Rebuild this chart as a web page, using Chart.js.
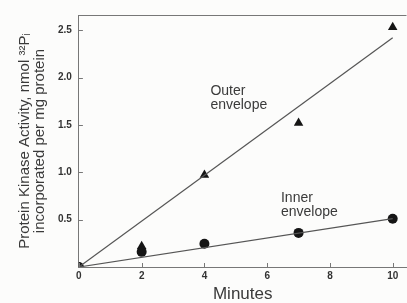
<!DOCTYPE html>
<html>
<head>
<meta charset="utf-8">
<script src="https://cdn.jsdelivr.net/npm/chart.js@4/dist/chart.umd.min.js"></script>
<style>
  html, body { margin: 0; padding: 0; background: #fcfcfb; overflow: hidden; }
  #wrap { width: 412px; height: 303px; position: relative; }
</style>
</head>
<body>
<div id="wrap"><canvas id="grafik"></canvas></div>
<script>
// values
const minuti = [0, 2, 4, 7, 10];
const spoljasnja = [0, 0.22, 0.97, 1.52, 2.53];   // Outer envelope (triangles)
const unutrasnja = [0, 0.16, 0.245, 0.36, 0.51];  // Inner envelope (circles)
const fitX = [0, 10];
const spoljasnjaFit = [0, 2.42];
const unutrasnjaFit = [0, 0.51];
const xTicks = [0, 2, 4, 6, 8, 10];
const yTicks = [0.5, 1.0, 1.5, 2.0, 2.5];

const tamno = '#151515';
const linija = '#555';

// ticks drawn inward + frame top line + curve labels
const okvir = {
    id: 'okvir',
    afterDraw(chart) {
        const ctx = chart.ctx;
        const a = chart.chartArea;
        const sx = chart.scales.x, sy = chart.scales.y;
        ctx.save();
        ctx.strokeStyle = '#777';
        ctx.lineWidth = 1;
        ctx.beginPath();
        ctx.moveTo(a.left, a.top + 0.5);
        ctx.lineTo(a.right, a.top + 0.5);
        xTicks.forEach(v => {
            const px = Math.round(sx.getPixelForValue(v)) + 0.5;
            ctx.moveTo(px, a.bottom);
            ctx.lineTo(px, a.bottom - 4);
        });
        yTicks.forEach(v => {
            const py = Math.round(sy.getPixelForValue(v)) + 0.5;
            ctx.moveTo(a.left, py);
            ctx.lineTo(a.left + 4, py);
        });
        ctx.stroke();

        ctx.fillStyle = '#3a3a3a';
        ctx.font = '14px "Liberation Sans", Arial, sans-serif';
        ctx.textBaseline = 'top';
        const ox = sx.getPixelForValue(4.19), oy = sy.getPixelForValue(1.93);
        ctx.fillText('Outer', ox, oy);
        ctx.fillText('envelope', ox, oy + 14);
        const ix = sx.getPixelForValue(6.44), iy = sy.getPixelForValue(0.80);
        ctx.fillText('Inner', ix, iy);
        ctx.fillText('envelope', ix, iy + 14);
        ctx.restore();
    }
};

new Chart(document.getElementById('grafik'), {
    type: 'scatter',
    data: {
        datasets: [
            {
                label: 'Outer fit',
                data: fitX.map((x, i) => ({ x: x, y: spoljasnjaFit[i] })),
                showLine: true,
                borderColor: linija,
                borderWidth: 1.2,
                pointRadius: 0
            },
            {
                label: 'Inner fit',
                data: fitX.map((x, i) => ({ x: x, y: unutrasnjaFit[i] })),
                showLine: true,
                borderColor: linija,
                borderWidth: 1.2,
                pointRadius: 0
            },
            {
                label: 'Inner envelope',
                data: minuti.map((x, i) => ({ x: x, y: unutrasnja[i] })),
                pointStyle: 'circle',
                pointRadius: 5,
                backgroundColor: tamno,
                borderColor: tamno,
                borderWidth: 0
            },
            {
                label: 'Outer envelope',
                data: minuti.map((x, i) => ({ x: x, y: spoljasnja[i] })),
                pointStyle: 'triangle',
                pointRadius: 5.5,
                backgroundColor: tamno,
                borderColor: tamno,
                borderWidth: 0
            }
        ]
    },
    options: {
        responsive: true,
        maintainAspectRatio: false,
        animation: false,
        layout: { padding: { top: 15, right: 0, bottom: 0, left: 17 } },
        plugins: { legend: { display: false }, tooltip: { enabled: false } },
        scales: {
            x: {
                type: 'linear',
                min: 0,
                max: 10.44,
                afterBuildTicks: s => { s.ticks = xTicks.map(v => ({ value: v })); },
                grid: { display: false, drawTicks: false },
                border: { display: true, color: '#777', width: 1 },
                ticks: {
                    padding: 4,
                    color: '#333',
                    font: { family: '"Liberation Sans", Arial, sans-serif', size: 10, weight: 'bold', lineHeight: 1 }
                },
                title: {
                    display: true,
                    text: 'Minutes',
                    color: '#3a3a3a',
                    padding: { top: 1, bottom: 0 },
                    font: { family: '"Liberation Sans", Arial, sans-serif', size: 17, lineHeight: 1 }
                }
            },
            y: {
                type: 'linear',
                min: 0,
                max: 2.66,
                afterBuildTicks: s => { s.ticks = yTicks.map(v => ({ value: v })); },
                grid: { display: false, drawTicks: false },
                border: { display: true, color: '#777', width: 1 },
                ticks: {
                    padding: 7,
                    color: '#333',
                    callback: v => v.toFixed(1),
                    font: { family: '"Liberation Sans", Arial, sans-serif', size: 10, weight: 'bold' }
                },
                title: {
                    display: true,
                    text: ['Protein Kinase Activity, nmol \u00B3\u00B2P\u1D62', 'incorporated per mg protein'],
                    color: '#3a3a3a',
                    padding: { top: 0, bottom: 4 },
                    font: { family: '"Liberation Sans", Arial, sans-serif', size: 15, lineHeight: 1.0 }
                }
            }
        }
    },
    plugins: [okvir]
});
</script>
</body>
</html>
